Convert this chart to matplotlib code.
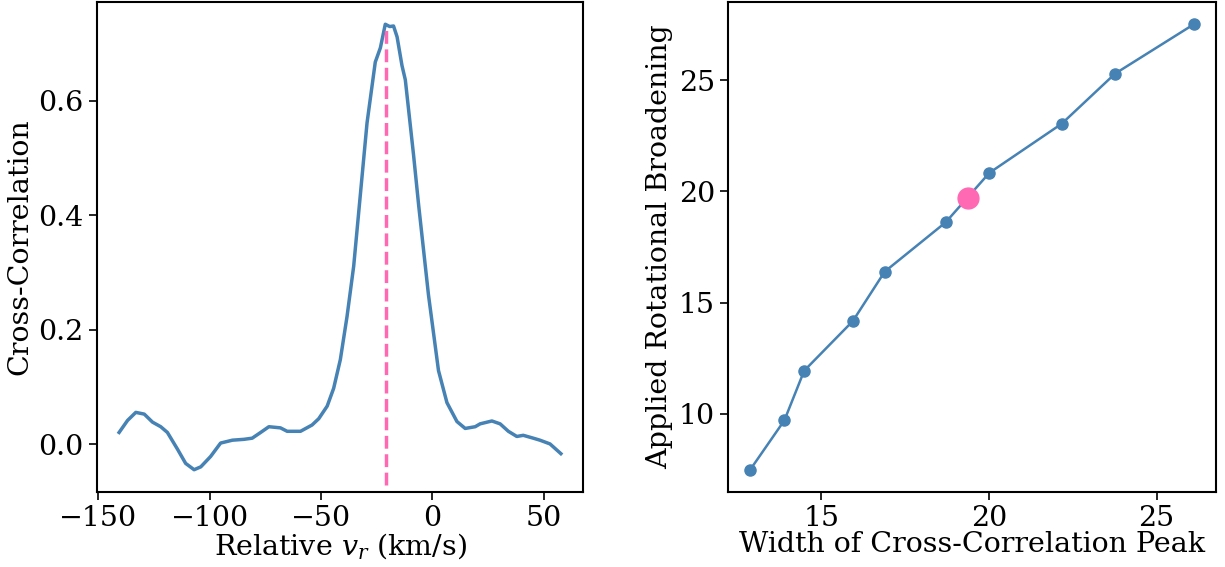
import matplotlib
matplotlib.use("Agg")
import matplotlib.pyplot as plt

# cross-correlation curve
rel_vr = [-140.7, -136.9, -133.2, -129.4, -125.7, -122.0, -119.0, -114.5, -110.8, -107.0,
          -104.0, -99.6, -95.1, -89.8, -84.6, -80.9, -77.1, -73.4, -68.2, -65.2,
          -59.2, -54.0, -51.0, -47.2, -44.3, -41.3, -38.3, -35.3, -32.3, -29.3,
          -25.6, -23.3, -21.1, -19.1, -17.4, -15.8, -13.6, -12.1, -8.4, -6.1,
          -1.7, 2.8, 6.6, 11.1, 14.8, 19.3, 21.5, 26.8, 30.5, 34.2,
          38.0, 40.9, 45.4, 48.4, 52.9, 57.8]
ccf = [0.021, 0.042, 0.056, 0.053, 0.039, 0.031, 0.021, -0.008, -0.033, -0.044,
       -0.039, -0.021, 0.0025, 0.0075, 0.009, 0.011, 0.021, 0.031, 0.029, 0.023,
       0.023, 0.034, 0.045, 0.067, 0.098, 0.148, 0.223, 0.311, 0.436, 0.561,
       0.667, 0.692, 0.733, 0.729, 0.730, 0.711, 0.661, 0.636, 0.505, 0.417,
       0.261, 0.129, 0.073, 0.040, 0.028, 0.031, 0.036, 0.041, 0.036, 0.023,
       0.014, 0.016, 0.011, 0.0075, 0.001, -0.016]
peak_vr = -20.6

# calibration: peak width vs applied broadening
peak_width = [12.88, 13.90, 14.49, 15.94, 16.89, 18.71, 20.01, 22.17, 23.76, 26.11]
broadening = [7.49, 9.71, 11.94, 14.17, 16.39, 18.61, 20.83, 23.04, 25.29, 27.51]
star_width = 19.36
star_broad = 19.69

plt.rcParams['font.family'] = 'DejaVu Serif'
plt.rcParams['mathtext.fontset'] = 'dejavuserif'
plt.rcParams['font.size'] = 20.5
plt.rcParams['axes.linewidth'] = 1.5
plt.rcParams['xtick.major.size'] = 6
plt.rcParams['ytick.major.size'] = 6
plt.rcParams['xtick.major.width'] = 1.2
plt.rcParams['ytick.major.width'] = 1.2

blue = '#4682b4'
pink = '#ff69b4'

fig = plt.figure(figsize=(12.25, 5.67), dpi=100)
ax1 = fig.add_axes([0.0792, 0.1323, 0.3967, 0.8642])
ax2 = fig.add_axes([0.5943, 0.1323, 0.3984, 0.8642])

ax1.plot(rel_vr, ccf, color=blue, lw=2.5)
# dashed marker at the peak, from near the bottom of the axes up to the peak
ax1.axvline(peak_vr, ymin=0.015, ymax=0.953, color=pink, ls='--', lw=2.5)
ax1.set_xlabel(r'Relative $v_r$ (km/s)', labelpad=-1)
ax1.set_ylabel('Cross-Correlation')
ax1.set_xticks([-150, -100, -50, 0, 50])
ax1.set_yticks([0.0, 0.2, 0.4, 0.6])

ax2.plot(peak_width, broadening, color=blue, lw=1.8, marker='o', ms=8)
ax2.plot(star_width, star_broad, 'o', color=pink, ms=15)
ax2.set_xlabel('Width of Cross-Correlation Peak', labelpad=-1)
ax2.set_ylabel('Applied Rotational Broadening')
ax2.set_xticks([15, 20, 25])
ax2.set_yticks([10, 15, 20, 25])

fig.savefig('out.png', dpi=100)
